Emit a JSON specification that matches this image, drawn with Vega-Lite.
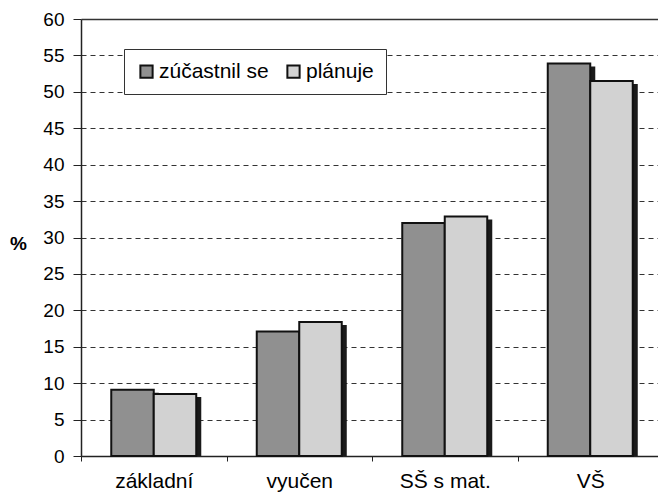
{
  "$schema": "https://vega.github.io/schema/vega-lite/v6.json",
  "width": 577,
  "height": 437,
  "autosize": {"type": "none"},
  "padding": {"left": 81, "top": 19, "right": 0, "bottom": 38},
  "background": "white",
  "config": {"view": {"stroke": null}, "font": "Liberation Sans"},
  "data": {
    "values": [
      {"edu": "základní", "series": "zúčastnil se", "value": 9.1},
      {"edu": "základní", "series": "plánuje", "value": 8.5},
      {"edu": "vyučen", "series": "zúčastnil se", "value": 17.1},
      {"edu": "vyučen", "series": "plánuje", "value": 18.4},
      {"edu": "SŠ s mat.", "series": "zúčastnil se", "value": 32.0},
      {"edu": "SŠ s mat.", "series": "plánuje", "value": 32.9},
      {"edu": "VŠ", "series": "zúčastnil se", "value": 53.9},
      {"edu": "VŠ", "series": "plánuje", "value": 51.5}
    ]
  },
  "encoding": {
    "x": {
      "field": "edu",
      "type": "nominal",
      "sort": ["základní", "vyučen", "SŠ s mat.", "VŠ"],
      "scale": {"paddingInner": 0, "paddingOuter": 0, "rangeMax": 582},
      "axis": {
        "title": null,
        "labelAngle": 0,
        "labelFontSize": 21,
        "labelColor": "black",
        "tickBand": "extent",
        "tickSize": 5,
        "tickColor": "#222",
        "domainColor": "#222",
        "domainWidth": 1.5,
        "labelPadding": 9
      }
    },
    "y": {
      "field": "value",
      "type": "quantitative",
      "scale": {"domain": [0, 60], "nice": false},
      "axis": {
        "values": [0, 5, 10, 15, 20, 25, 30, 35, 40, 45, 50, 55, 60],
        "grid": true,
        "gridColor": "#333",
        "gridDash": {"condition": {"test": "datum.value === 60", "value": []}, "value": [5, 4]},
        "gridWidth": {"condition": {"test": "datum.value === 60", "value": 1.5}, "value": 1},
        "tickSize": 8,
        "tickColor": "#222",
        "domainColor": "#222",
        "domainWidth": 1.5,
        "labelPadding": 9,
        "labelFontSize": 19,
        "labelColor": "black",
        "title": "%",
        "titleAngle": 0,
        "titleFontSize": 19,
        "titleFontWeight": "bold",
        "titleColor": "black",
        "titleX": -63,
        "titleY": 224,
        "titleAlign": "center",
        "titleBaseline": "middle"
      }
    }
  },
  "resolve": {"scale": {"xOffset": "independent"}},
  "layer": [
    {
      "mark": {"type": "bar", "fill": "#1a1a1a", "yOffset": 3, "clip": true},
      "encoding": {
        "xOffset": {
          "field": "series",
          "type": "nominal",
          "sort": ["zúčastnil se", "plánuje"],
          "scale": {"paddingOuter": 0.712, "paddingInner": 0, "align": 0.583}
        }
      }
    },
    {
      "mark": {"type": "bar", "stroke": "#111", "strokeWidth": 2},
      "encoding": {
        "xOffset": {
          "field": "series",
          "type": "nominal",
          "sort": ["zúčastnil se", "plánuje"],
          "scale": {"paddingOuter": 0.712, "paddingInner": 0}
        },
        "fill": {
          "field": "series",
          "type": "nominal",
          "sort": ["zúčastnil se", "plánuje"],
          "scale": {"range": ["#909090", "#d2d2d2"]},
          "legend": {
            "orient": "none",
            "legendX": 43,
            "legendY": 30,
            "direction": "horizontal",
            "title": null,
            "labelFontSize": 21,
            "labelColor": "black",
            "symbolType": "square",
            "symbolSize": 150,
            "symbolStrokeColor": "#111",
            "symbolStrokeWidth": 2,
            "strokeColor": "#333",
            "fillColor": "white",
            "padding": 12,
            "columnPadding": 14,
            "labelOffset": 2
          }
        }
      }
    }
  ]
}
